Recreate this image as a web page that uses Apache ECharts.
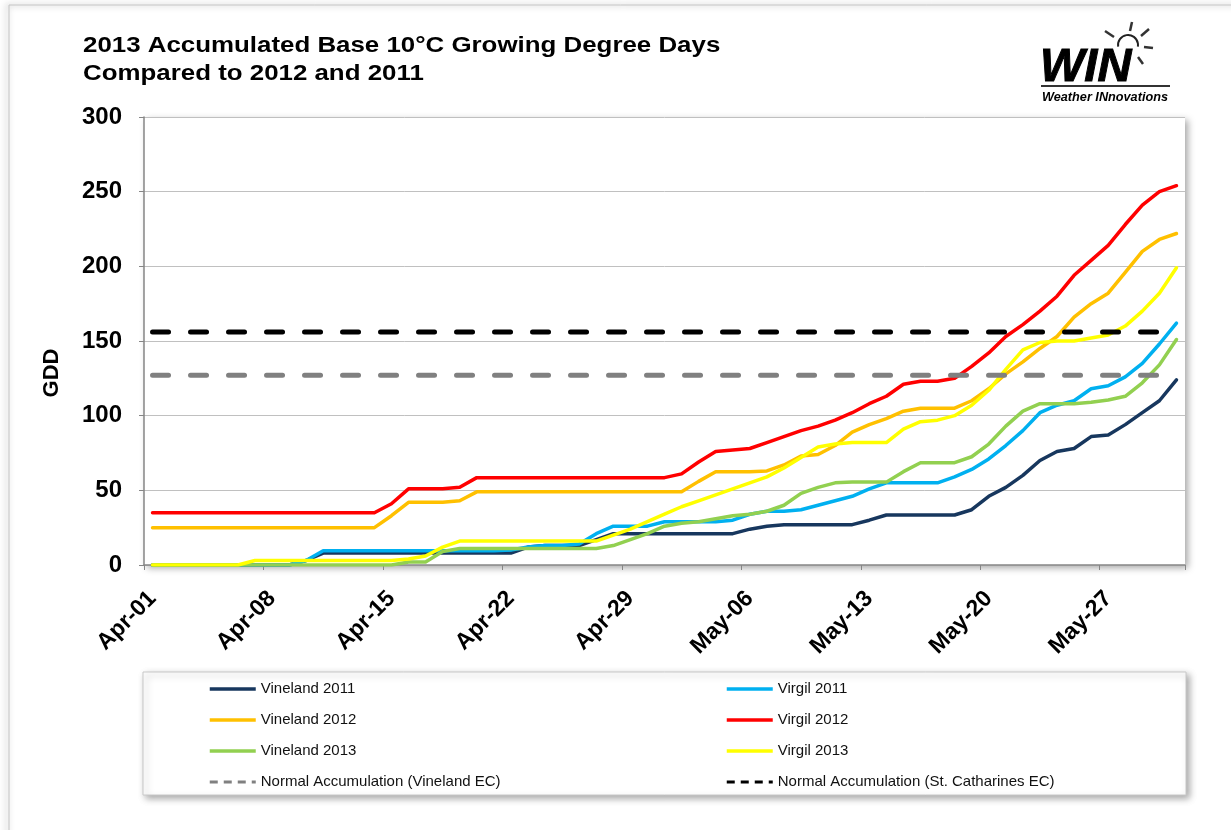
<!DOCTYPE html>
<html><head><meta charset="utf-8">
<script src="https://cdn.jsdelivr.net/npm/echarts@6/dist/echarts.min.js"></script>
<style>html,body{margin:0;padding:0;background:#fff}#c{width:1231px;height:830px}</style>
</head><body><div id="c"></div>
<script>
// ---- categories (daily, Apr-01 .. May-31) ----
const days = [
 'Apr-01','Apr-02','Apr-03','Apr-04','Apr-05','Apr-06','Apr-07','Apr-08','Apr-09','Apr-10',
 'Apr-11','Apr-12','Apr-13','Apr-14','Apr-15','Apr-16','Apr-17','Apr-18','Apr-19','Apr-20',
 'Apr-21','Apr-22','Apr-23','Apr-24','Apr-25','Apr-26','Apr-27','Apr-28','Apr-29','Apr-30',
 'May-01','May-02','May-03','May-04','May-05','May-06','May-07','May-08','May-09','May-10',
 'May-11','May-12','May-13','May-14','May-15','May-16','May-17','May-18','May-19','May-20',
 'May-21','May-22','May-23','May-24','May-25','May-26','May-27','May-28','May-29','May-30','May-31'
];
const yTicks = [0, 50, 100, 150, 200, 250, 300];

// ---- series values (accumulated GDD, base 10°C) ----
const vineland2011 = [
 0,0,0,0,0,0,0,0,0,3,
 8,8,8,8,8,8,8,8,8,8,
 8,8,12,13,13,13,17,21,21,21,
 21,21,21,21,21,24,26,27,27,27,
 27,27,30,33.5,33.5,33.5,33.5,33.5,37,46,
 52,60,70,76,78,86,87,94,102,110,124
];
const virgil2011 = [
 0,0,0,0,0,0,0,0,0,3,
 9.5,9.5,9.5,9.5,9.5,9.5,9.5,9.5,9.5,9.5,
 9.5,10,12,13,13,14,21,26,26,26,
 29,29,29,29,30,34,36,36,37,40,
 43,46,51,55,55,55,55,59,64,71,
 80,90,102,107,110,118,120,126,135,148,162
];
const vineland2012 = [
 25,25,25,25,25,25,25,25,25,25,
 25,25,25,25,33,42,42,42,43,49,
 49,49,49,49,49,49,49,49,49,49,
 49,49,56,62.5,62.5,62.5,63,67,73,74,
 80,89,94,98,103,105,105,105,110,118,
 128,136,145,153,166,175,182,196,210,218,222
];
const virgil2012 = [
 35,35,35,35,35,35,35,35,35,35,
 35,35,35,35,41,51,51,51,52,58.5,
 58.5,58.5,58.5,58.5,58.5,58.5,58.5,58.5,58.5,58.5,
 58.5,61,69,76,77,78,82,86,90,93,
 97,102,108,113,121,123,123,125,133,142,
 153,161,170,180,194,204,214,228,241,250,254
];
const vineland2013 = [
 0,0,0,0,0,0,0,0,0,0,
 0,0,0,0,0,2,2,9,11,11,
 11,11,11,11,11,11,11,13,17,21,
 26,28,29,31,33,34,36,40,48,52,
 55,55.5,55.5,55.5,62.5,68.5,68.5,68.5,72.5,81,
 93,103,108,108,108,109,110.5,113,122,134,151
];
const virgil2013 = [
 0,0,0,0,0,0,3,3,3,3,
 3,3,3,3,3,4,6,12,16,16,
 16,16,16,16,16,16,16,20,24,29,
 34,39,43,47,51,55,59,65,72,79,
 81,82,82,82,91,96,97,100,107,117,
 131,144,149,150,150,152,154,160,170,182,199
];
// Normal accumulation levels (constant reference lines)
const normalVineland = [['Apr-01', 127], ['May-31', 127]];
const normalStCatharines = [['Apr-01', 156], ['May-31', 156]];

const FONT = "'Liberation Sans', Arial, sans-serif";

function lineSeries(name, data, color) {
  return { name, type: 'line', data, symbol: 'none', smooth: false,
    lineStyle: { color, width: 3.5, join: 'round', cap: 'round' },
    itemStyle: { color }, emphasis: { disabled: true }, animation: false };
}
function dashSeries(name, data, color) {
  return { name, type: 'line', data, symbol: 'none',
    lineStyle: { color, width: 5, type: [16, 22], cap: 'round' },
    itemStyle: { color }, emphasis: { disabled: true }, animation: false };
}

const chart = echarts.init(document.getElementById('c'), null, { renderer: 'canvas' });

const legendCommon = {
  orient: 'vertical', top: 681, itemWidth: 46, itemHeight: 16, itemGap: 15,
  padding: 0, selectedMode: false,
  textStyle: { fontFamily: FONT, fontSize: 15, lineHeight: 16, color: '#111' },
  itemStyle: { opacity: 0 },
  lineStyle: { width: 3.5, cap: 'butt' }
};
const dashLegend = { type: [8, 6], width: 3, cap: 'butt' };

chart.setOption({
  animation: false,
  backgroundColor: '#fff',
  grid: { left: 144, right: 46, top: 117, bottom: 265, show: true,
    backgroundColor: '#fff', borderWidth: 0,
    shadowBlur: 7, shadowOffsetX: 3, shadowOffsetY: 3, shadowColor: 'rgba(0,0,0,0.35)' },
  xAxis: {
    type: 'category', data: days, boundaryGap: true,
    axisLine: { lineStyle: { color: '#868686', width: 1.5 } },
    axisTick: { show: true, interval: 6, length: 5, lineStyle: { color: '#868686' } },
    axisLabel: { interval: 6, rotate: 45, margin: 30, fontFamily: FONT, fontWeight: 'bold',
      fontSize: 23, color: '#000' },
    splitLine: { show: false }
  },
  yAxis: {
    type: 'value', min: yTicks[0], max: yTicks[yTicks.length - 1], interval: 50,
    axisLine: { show: true, lineStyle: { color: '#868686', width: 1.5 } },
    axisTick: { show: true, length: 5, lineStyle: { color: '#868686' } },
    axisLabel: { margin: 22, fontFamily: FONT, fontWeight: 'bold', fontSize: 24, color: '#000' },
    splitLine: { lineStyle: { color: '#c0c0c0', width: 1 } }
  },
  legend: [
    Object.assign({}, legendCommon, { left: 208, data: [
      { name: 'Vineland 2011' }, { name: 'Vineland 2012' }, { name: 'Vineland 2013' },
      { name: 'Normal Accumulation (Vineland EC)', lineStyle: dashLegend } ] }),
    Object.assign({}, legendCommon, { left: 725, data: [
      { name: 'Virgil 2011' }, { name: 'Virgil 2012' }, { name: 'Virgil 2013' },
      { name: 'Normal Accumulation (St. Catharines EC)', lineStyle: dashLegend } ] })
  ],
  graphic: [
    { type: 'rect', z: -10, silent: true,
      shape: { x: 9, y: 5, width: 1240, height: 840 },
      style: { fill: 'none', stroke: '#c4c4c4', lineWidth: 1,
        shadowBlur: 6, shadowColor: 'rgba(0,0,0,0.45)', shadowOffsetX: -2, shadowOffsetY: 0 } },
    { type: 'rect', z: -5, silent: true,
      shape: { x: 143, y: 672, width: 1043, height: 123 },
      style: { fill: '#fff', stroke: '#c8c8c8', lineWidth: 1,
        shadowBlur: 7, shadowColor: 'rgba(0,0,0,0.35)', shadowOffsetX: 3, shadowOffsetY: 3 } },
    { type: 'text', silent: true, x: 83, y: 46, scaleX: 1.176,
      style: { text: '2013 Accumulated Base 10°C Growing Degree Days',
        font: "bold 22px 'Liberation Sans', Arial, sans-serif", fill: '#000',
        textAlign: 'left', textVerticalAlign: 'middle', align: 'left', verticalAlign: 'middle' } },
    { type: 'text', silent: true, x: 83, y: 74, scaleX: 1.176,
      style: { text: 'Compared to 2012 and 2011',
        font: "bold 22px 'Liberation Sans', Arial, sans-serif", fill: '#000',
        textAlign: 'left', textVerticalAlign: 'middle', align: 'left', verticalAlign: 'middle' } },
    { type: 'text', silent: true, x: 52, y: 373, rotation: Math.PI / 2,
      style: { text: 'GDD', font: "bold 22px 'Liberation Sans', Arial, sans-serif", fill: '#000',
        textAlign: 'center', textVerticalAlign: 'middle', align: 'center', verticalAlign: 'middle' } },
    // WIN logo
    { type: 'text', silent: true, x: 1040, y: 68,
      style: { text: 'WIN', font: "italic bold 47px 'Liberation Sans', Arial, sans-serif", fill: '#000',
        stroke: '#000', lineWidth: 1,
        textAlign: 'left', textVerticalAlign: 'middle', align: 'left', verticalAlign: 'middle' } },
    { type: 'arc', silent: true, shape: { cx: 1128, cy: 45, r: 10, startAngle: Math.PI * 0.95, endAngle: Math.PI * 2.05, clockwise: true },
      style: { stroke: '#222', lineWidth: 2, fill: 'none' } },
    { type: 'line', silent: true, shape: { x1: 1114, y1: 37, x2: 1105, y2: 31 }, style: { stroke: '#333', lineWidth: 2.5 } },
    { type: 'line', silent: true, shape: { x1: 1130, y1: 31, x2: 1132, y2: 22 }, style: { stroke: '#333', lineWidth: 2.5 } },
    { type: 'line', silent: true, shape: { x1: 1141, y1: 36, x2: 1149, y2: 29 }, style: { stroke: '#333', lineWidth: 2.5 } },
    { type: 'line', silent: true, shape: { x1: 1144, y1: 47, x2: 1153, y2: 48 }, style: { stroke: '#333', lineWidth: 2.5 } },
    { type: 'line', silent: true, shape: { x1: 1138, y1: 57, x2: 1143, y2: 64 }, style: { stroke: '#333', lineWidth: 2.5 } },
    { type: 'line', silent: true, shape: { x1: 1041, y1: 86, x2: 1170, y2: 86 }, style: { stroke: '#333', lineWidth: 2 } },
    { type: 'text', silent: true, x: 1042, y: 97,
      style: { text: 'Weather INnovations', font: "italic bold 12.7px 'Liberation Sans', Arial, sans-serif", fill: '#000',
        textAlign: 'left', textVerticalAlign: 'middle', align: 'left', verticalAlign: 'middle' } }
  ],
  series: [
    lineSeries('Vineland 2011', vineland2011, '#17375E'),
    lineSeries('Virgil 2011', virgil2011, '#00B0F0'),
    lineSeries('Vineland 2012', vineland2012, '#FFC000'),
    lineSeries('Virgil 2012', virgil2012, '#FF0000'),
    lineSeries('Vineland 2013', vineland2013, '#92D050'),
    lineSeries('Virgil 2013', virgil2013, '#FFFF00'),
    dashSeries('Normal Accumulation (Vineland EC)', normalVineland, '#808080'),
    dashSeries('Normal Accumulation (St. Catharines EC)', normalStCatharines, '#000000')
  ]
});
</script>
</body></html>
